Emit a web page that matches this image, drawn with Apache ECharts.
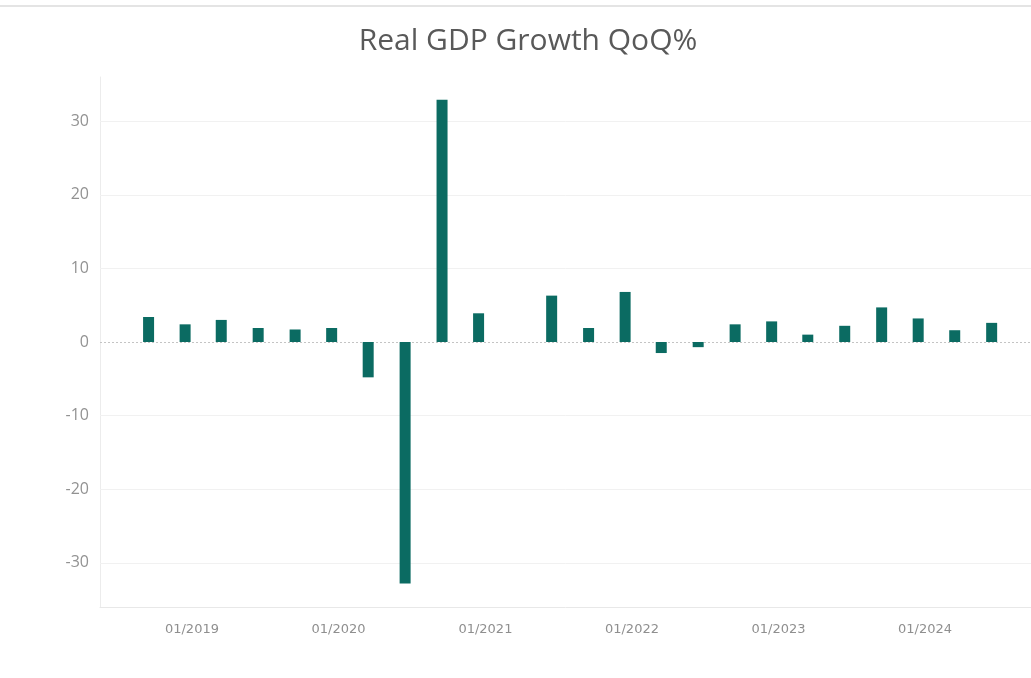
<!DOCTYPE html>
<html>
<head>
<meta charset="utf-8">
<title>Real GDP Growth QoQ%</title>
<script src="https://cdn.jsdelivr.net/npm/echarts@6/dist/echarts.min.js"></script>
<style>
  html, body { margin: 0; padding: 0; background: #ffffff; }
  #chart { width: 1031px; height: 678px; }
</style>
</head>
<body>
<div id="chart"></div>
<script>
// Quarterly real GDP growth, annualised QoQ %, one entry per quarter
const quarters = [
  '2018 Q3', '2018 Q4',
  '2019 Q1', '2019 Q2', '2019 Q3', '2019 Q4',
  '2020 Q1', '2020 Q2', '2020 Q3', '2020 Q4',
  '2021 Q1', '2021 Q2', '2021 Q3', '2021 Q4',
  '2022 Q1', '2022 Q2', '2022 Q3', '2022 Q4',
  '2023 Q1', '2023 Q2', '2023 Q3', '2023 Q4',
  '2024 Q1', '2024 Q2'
];
const growth = [
  3.4, 2.4,
  3.0, 1.9, 1.7, 1.9,
  -4.8, -32.8, 32.9, 3.9,
  null, 6.3, 1.9, 6.8,
  -1.5, -0.7, 2.4, 2.8,
  1.0, 2.2, 4.7, 3.2,
  1.6, 2.6
];
// Year ticks on the date axis and value ticks on the growth axis
const yearTicks = [2019, 2020, 2021, 2022, 2023, 2024];
const valueTicks = [-30, -20, -10, 0, 10, 20, 30];

// Each quarter is plotted in the middle of its last month
function quarterDate(q) {
  const [y, qq] = q.split(' Q').map(Number);
  return Date.UTC(y, qq * 3 - 1, 15);
}
const pad = n => (n < 10 ? '0' : '') + n;

const seriesData = quarters.map((q, i) => [quarterDate(q), growth[i]]);
const yearStamps = yearTicks.map(y => Date.UTC(y, 0, 1));

const chart = echarts.init(document.getElementById('chart'), null, { renderer: 'canvas' });

const option = {
  backgroundColor: '#ffffff',
  animation: false,
  title: {
    text: 'Real GDP Growth QoQ%',
    left: 523,
    textAlign: 'center',
    top: 21,
    textStyle: {
      fontFamily: 'Open Sans',
      fontWeight: 'normal',
      fontSize: 30,
      color: '#595959'
    }
  },
  graphic: [
    {
      type: 'line',
      shape: { x1: 0, y1: 6, x2: 1031, y2: 6 },
      style: { stroke: '#e4e4e4', lineWidth: 2 },
      silent: true
    }
  ],
  grid: {
    left: 100,
    right: 0,
    top: 77,
    bottom: 71,
    containLabel: false
  },
  xAxis: {
    // dates as UTC milliseconds on a linear scale
    type: 'value',
    min: Date.UTC(2018, 4, 17),
    max: Date.UTC(2024, 8, 21),
    axisLine: { show: true, onZero: false, lineStyle: { color: '#e8e8e8', width: 1 } },
    axisTick: { show: false },
    splitLine: { show: false },
    axisLabel: {
      customValues: yearStamps,
      margin: 16,
      fontFamily: 'DejaVu Sans',
      fontSize: 13,
      color: '#8f8f8f',
      formatter: v => {
        const d = new Date(v);
        return pad(d.getUTCMonth() + 1) + '/' + d.getUTCFullYear();
      }
    }
  },
  yAxis: {
    type: 'value',
    min: -36,
    max: 36,
    axisLine: { show: true, onZero: false, lineStyle: { color: '#ececec', width: 1 } },
    axisTick: { show: false },
    splitLine: { show: false },
    axisLabel: {
      customValues: valueTicks,
      margin: 11,
      fontFamily: 'Open Sans',
      fontSize: 16,
      color: '#929292'
    }
  },
  series: [
    {
      type: 'bar',
      data: seriesData,
      barWidth: 11,
      itemStyle: { color: '#0b6b62' },
      z: 3,
      markLine: {
        silent: true,
        symbol: 'none',
        label: { show: false },
        z: 1,
        data: valueTicks.map(v => ({
          yAxis: v,
          lineStyle: v === 0
            ? { color: '#c4c4c4', type: [2, 2], width: 1 }
            : { color: '#f1f1f1', type: 'solid', width: 1 }
        }))
      }
    }
  ]
};

chart.setOption(option);
</script>
</body>
</html>
